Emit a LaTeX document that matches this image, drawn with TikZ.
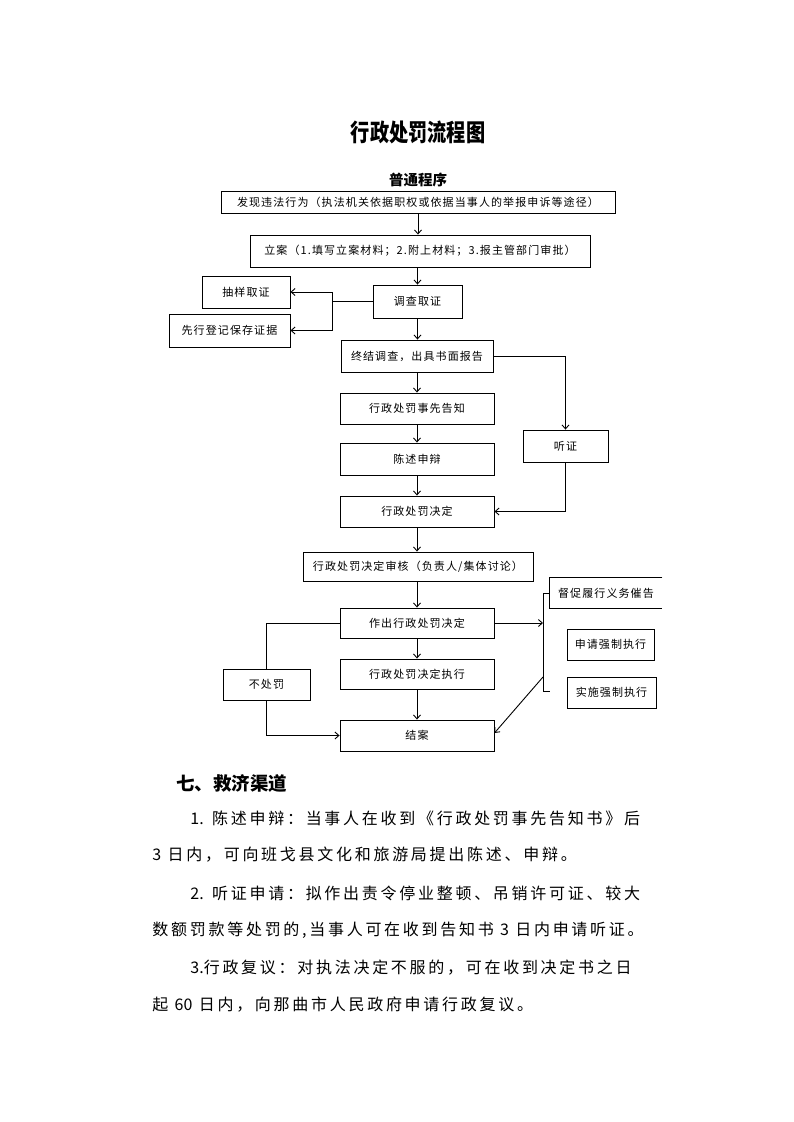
\documentclass[tikz,border=0pt]{standalone}
\usepackage{fontspec}
\usepackage{graphicx}
\usetikzlibrary{arrows.meta}
\newfontfamily\cjkfont{Noto Sans CJK SC}
\newfontfamily\boxfont{Noto Sans CJK SC}[LetterSpace=10]
\newfontfamily\bodyfont{Noto Sans CJK SC}[LetterSpace=17]
\newcommand\plainnum[1]{{\cjkfont #1}}
\tikzset{
  box/.style={draw, line width=0.9pt, inner sep=0pt, font=\boxfont\fontsize{11}{13}\selectfont},
  arr/.style={-{Straight Barb[length=4pt,width=7pt]}},
  textline/.style={anchor=west, inner sep=0pt, font=\bodyfont\fontsize{16}{18}\selectfont},
}
\begin{document}
\begin{tikzpicture}[x=1pt,y=-1pt,line width=0.9pt]
      \useasboundingbox (0,0) rectangle (793,1122);
      % headings
      \node[font=\cjkfont\bfseries\fontsize{24}{26}\selectfont] (title) at (418,132) {\scalebox{0.8}[1]{行政处罚流程图}};
      \node[font=\cjkfont\bfseries\fontsize{14.5}{16}\selectfont] (putong) at (418,180) {普通程序};
      % main column
      \node[box, minimum width=394pt, minimum height=22pt] (discover) at (418,202) {发现违法行为（执法机关依据职权或依据当事人的举报申诉等途径）};
      \node[box, minimum width=340pt, minimum height=32pt] (filing) at (420,251) {立案（1.填写立案材料；2.附上材料；3.报主管部门审批）};
      \node[box, minimum width=89pt, minimum height=33pt] (investigate) at (417.5,301.5) {调查取证};
      \node[box, minimum width=88pt, minimum height=32pt] (sampling) at (246,292) {抽样取证};
      \node[box, minimum width=121pt, minimum height=33pt] (preserve) at (229.5,330.5) {先行登记保存证据};
      \node[box, minimum width=152pt, minimum height=32pt] (report) at (417,356) {终结调查，出具书面报告};
      \node[box, minimum width=154pt, minimum height=31pt] (notice) at (417,408.5) {行政处罚事先告知};
      \node[box, minimum width=154pt, minimum height=32pt] (defense) at (417,459) {陈述申辩};
      \node[box, minimum width=154pt, minimum height=31pt] (decision) at (417,511.5) {行政处罚决定};
      \node[box, minimum width=85pt, minimum height=32pt] (hearing) at (565.5,446) {听证};
      \node[box, minimum width=230pt, minimum height=29pt] (review) at (418,566.5) {行政处罚决定审核（负责人/集体讨论）};
      \node[box, minimum width=154pt, minimum height=30pt] (make) at (417,623) {作出行政处罚决定};
      \node[box, minimum width=154pt, minimum height=30pt] (execute) at (417,674) {行政处罚决定执行};
      \node[box, minimum width=87pt, minimum height=31pt] (nopenalty) at (266.5,684.5) {不处罚};
      \node[box, minimum width=154pt, minimum height=31pt] (close) at (417,735.5) {结案};
      % enforcement boxes
      \node[box, draw=none, minimum width=112pt, minimum height=30pt] (urge) at (606,593) {督促履行义务催告};
      \draw (urge.north east) -- (urge.north west) -- (urge.south west) -- (urge.south east);
      \node[box, minimum width=87pt, minimum height=31pt] (apply) at (610.5,644.5) {申请强制执行};
      \node[box, minimum width=89pt, minimum height=31pt] (enforce) at (611.5,692.5) {实施强制执行};
      \coordinate (split) at (332,301.5);
      \coordinate (brtop) at (543,593);
      \coordinate (brbot) at (543,691);
      \coordinate (brdiag) at (543,677);
      % connectors
      \begin{scope}[arr]
        \draw (discover.south) -- (discover.south |- filing.north);
        \draw (investigate.north |- filing.south) -- (investigate.north);
        \draw (investigate.south) -- (investigate.south |- report.north);
        \draw (report.south) -- (notice.north);
        \draw (notice.south) -- (defense.north);
        \draw (defense.south) -- (decision.north);
        \draw (decision.south) -- (decision.south |- review.north);
        \draw (make.north |- review.south) -- (make.north);
        \draw (make.south) -- (execute.north);
        \draw (execute.south) -- (close.north);
        \draw (investigate.west) -- (split) |- (sampling.east);
        \draw (split) |- (preserve.east);
        \draw (report.east) -| (hearing.north);
        \draw (hearing.south) |- (decision.east);
        \draw (make.east) -- (make.east -| brtop);
        \draw (nopenalty.south) |- (close.west);
        \draw (brdiag) -- ([yshift=2.5pt]close.east);
      \end{scope}
      \draw (make.west) -| (nopenalty.north);
      \draw (urge.west) -- (brtop) -- (brbot) -- ++(7,0);
      % remedies
      \node[anchor=west, inner sep=0pt, font=\cjkfont\bfseries\fontsize{18.5}{20}\selectfont] (remedy) at (176,783) {七、救济渠道};
      \node[textline] (line1) at (190,818) {\plainnum{1.} 陈述申辩：当事人在收到《行政处罚事先告知书》后};
      \node[textline] (line2) at (152,855) {\plainnum{3} 日内，可向班戈县文化和旅游局提出陈述、申辩。};
      \node[textline] (line3) at (190,893) {\plainnum{2.} 听证申请：拟作出责令停业整顿、吊销许可证、较大};
      \node[textline] (line4) at (152,930) {数额罚款等处罚的,当事人可在收到告知书 \plainnum{3} 日内申请听证。};
      \node[textline] (line5) at (190,968) {\plainnum{3.}行政复议：对执法决定不服的，可在收到决定书之日};
      \node[textline] (line6) at (152,1005) {起 \plainnum{60} 日内，向那曲市人民政府申请行政复议。};
    \end{tikzpicture}
\end{document}
